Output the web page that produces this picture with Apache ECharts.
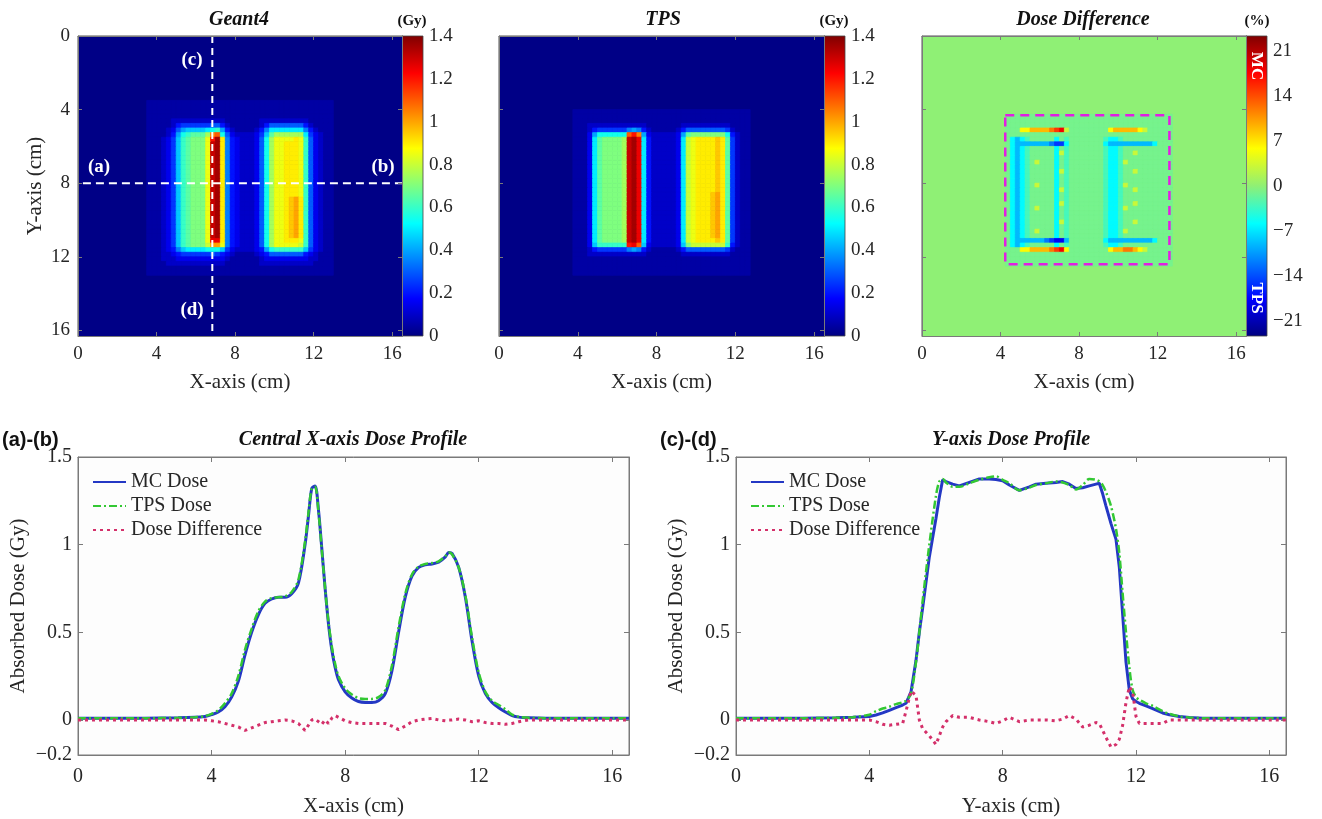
<!DOCTYPE html>
<html>
<head>
<meta charset="utf-8">
<script src="https://cdn.jsdelivr.net/npm/echarts@6/dist/echarts.min.js"></script>
<style>
html, body { margin: 0; padding: 0; background: #fff; }
#chart { width: 1322px; height: 819px; }
</style>
</head>
<body>
<div id="chart"></div>
<script>
// ---- dose maps: 0.25 cm cells covering x 3.5-13.5, y 3.5-13.5 (cm) ----
// code per cell: '.' = background, then 0.05 Gy steps '0'..'S' (0 .. 1.4 Gy)
const doseLevels = '0123456789ABCDEFGHIJKLMNOPQRS';
const doseBackground = 0.01;

const geant4Rows = [
  '11111111111111111111111111111111111111..',
  '11111111111111111111111111111111111111..',
  '11111111111111111111111111111111111111..',
  '11111111111111111111111111111111111111..',
  '11111222222222221111111222222222211111..',
  '11111245555556642111111246666666421111..',
  '111123689999ABC8421111247AAAAAAA742111..',
  '1111248BCDDDFLMB632222359DFFFFFFA53211..',
  '1112359CDEEEHORI74322236BFHHHHIHC63211..',
  '1112359CDEEEHQRI74322236BFHHIIIHC63211..',
  '1112359CDEEEHQRI74322236BFHHIIIHC63211..',
  '1112359CDEEEHQRI74322236BFHHIIIHC63211..',
  '1112359CDEEEHQRI74322236BFHHIIIHC63211..',
  '1112359CDEEEHQRI74322236BFHHIIIHC63211..',
  '1112359CDEEEHQRI74322236BFHHIIIHC63211..',
  '1112359CDEEEHQRI74322236BFHHIIIHC63211..',
  '1112359CDEEEHQRI74322236BFHHIIIHC63211..',
  '1112359CDEEEHQRI74322236BFHHIIIHC63211..',
  '1112359CDEEEHQRI74322236BFHHIIIHC63211..',
  '1112359CDEEEHQRI74322236BFHHIIIHC63211..',
  '1112359CDEEEHQRI74322236BFHHIIIHC63211..',
  '1112359CDEEEHQRI74322236BFHHIJKIC63211..',
  '1112359CDEEEHQRI74322236BFHHIJKIC63211..',
  '1112359CDEEEHQRI74322236BFHHIJKIC63211..',
  '1112359CDEEEHQRI74322236BFHHIJKIC63211..',
  '1112359CDEEEHQRI74322236BFHHIJKIC63211..',
  '1112359CDEEEHQRI74322236BFHHIJKIC63211..',
  '1112359CDEEEHQRI74322236BFHHIJKIC63211..',
  '1112359CDEEEHQRI74322236BFHHIJKIC63211..',
  '1112359CDEEEHQRI74322236BFHHIJKIC63211..',
  '1112359CDEEEHPPI74322236BFHHIIIHC63211..',
  '1112359CDEEEGKKH74322236BFHHHHHGC63211..',
  '11123479AAAABBB9532222348BCCCCCC953211..',
  '11122345555556543211112346666666432111..',
  '11122233333333332111111233333333322111..',
  '11112222222222221111111222222222221111..',
  '11111111111111111111111111111111111111..',
  '11111111111111111111111111111111111111..',
  '........................................',
  '........................................'
];

const tpsRows = [
  '........................................',
  '........................................',
  '.111111111111111111111111111111111111...',
  '.111111111111111111111111111111111111...',
  '.111111111111111111111111111111111111...',
  '.111222222222222111111122222222221111...',
  '.111245555557874211111246666666652111...',
  '.11138BBBBBBMOL832222238DEEEEEEEB4211...',
  '.1113ADEEEEFQRPA4222223AGHIIIIJID5211...',
  '.1113ADEEEEFQRPA4222223AGHIIIIJID5211...',
  '.1113ADEEEEFQRPA4222223AGHIIIIJID5211...',
  '.1113ADEEEEFQRPA4222223AGHIIIIJID5211...',
  '.1113ADEEEEFQRPA4222223AGHIIIIJID5211...',
  '.1113ADEEEEFQRPA4222223AGHIIIIJID5211...',
  '.1113ADEEEEFQRPA4222223AGHIIIIJID5211...',
  '.1113ADEEEEFQRPA4222223AGHIIIIJID5211...',
  '.1113ADEEEEFQRPA4222223AGHIIIIJID5211...',
  '.1113ADEEEEFQRPA4222223AGHIIIIJID5211...',
  '.1113ADEEEEFQRPA4222223AGHIIIIJID5211...',
  '.1113ADEEEEFQRPA4222223AGHIIIIJID5211...',
  '.1113ADEEEEFQRPA4222223AGHIIIJKID5211...',
  '.1113ADEEEEFQRPA4222223AGHIIIJKID5211...',
  '.1113ADEEEEFQRPA4222223AGHIIIJKID5211...',
  '.1113ADEEEEFQRPA4222223AGHIIIJKID5211...',
  '.1113ADEEEEFQRPA4222223AGHIIIJKID5211...',
  '.1113ADEEEEFQRPA4222223AGHIIIJKID5211...',
  '.1113ADEEEEFQRPA4222223AGHIIIJKID5211...',
  '.1113ADEEEEFQRPA4222223AGHIIIJKID5211...',
  '.1113ADEEEEFQRPA4222223AGHIIIJKID5211...',
  '.1113ADEEEEFQRPA4222223AGHIIIJKID5211...',
  '.1113ADEEEEFQRPA4222223AGHIIIIJID5211...',
  '.11139CCCCCCOPM932222239EGGGGGGGC4211...',
  '.111245555557874211111246666666652111...',
  '.111222222222222111111122222222221111...',
  '.111111111111111111111111111111111111...',
  '.111111111111111111111111111111111111...',
  '.111111111111111111111111111111111111...',
  '.111111111111111111111111111111111111...',
  '........................................',
  '........................................'
];

// dose difference (%): '.' = 0, '-' = -1, a..g = -3..-21, A..G = +3..+21
const diffCodes = { '.': 0, '-': -1, a: -3, b: -6, c: -9, d: -12, e: -15, f: -18, g: -21,
  A: 3, B: 6, C: 9, D: 12, E: 15, F: 18, G: 21 };

const diffRows = [
  '........................................',
  '........................................',
  '........................................',
  '...----------------------------------...',
  '...----------------------------------...',
  '...----------------------------------...',
  '...---BBCCCCDEFA--------BCCCCCBA-----...',
  '...----------------------------------...',
  '...-bcba-----b-a-------abba----------...',
  '...-bcccccccdeeb-------bcccccccccb---...',
  '...-bcba-----b-a-------abba----------...',
  '...-bcba-----bAa-------abba--A-------...',
  '...-bcba-----b-a-------abba----------...',
  '...-bcba-A---b-a-------abbaA---------...',
  '...-bcba-----b-a-------abba----------...',
  '...-bcba-----bAa-------abba--A-------...',
  '...-bcba-----b-a-------abba----------...',
  '...-bcba-----b-a-------abba----------...',
  '...-bcba-A---b-a-------abbaA---------...',
  '...-bcba-----bAa-------abba--A-------...',
  '...-bcba-----b-a-------abba----------...',
  '...-bcba-----b-a-------abba----------...',
  '...-bcba-----bAa-------abba--A-------...',
  '...-bcba-A---b-a-------abbaA---------...',
  '...-bcba-----b-a-------abba----------...',
  '...-bcba-----b-a-------abba----------...',
  '...-bcba-----bAa-------abba--A-------...',
  '...-bcba-----b-a-------abba----------...',
  '...-bcba-A---b-a-------abbaA---------...',
  '...-bcba-----b-a-------abba----------...',
  '...-bccccccdeffc-------bcccccccccb---...',
  '...-bcba-----b-a-------abba----------...',
  '...---BBCCCCDEFB--------BCCDDCBA-----...',
  '...----------------------------------...',
  '...----------------------------------...',
  '...----------------------------------...',
  '........................................',
  '........................................',
  '........................................',
  '........................................'
];

// reference lines drawn on the maps (cm)
const profileLineX = 6.84;
const profileLineY = 8;
const diffBox = [[4.24, 4.3], [12.6, 4.3], [12.6, 12.4], [4.24, 12.4], [4.24, 4.3]];

// ---- (a)-(b) central X-axis profile ----
const xProfPos = [0, 1, 2, 3, 3.5, 3.8, 4.0, 4.2, 4.4, 4.6, 4.8, 5.0, 5.2, 5.4, 5.6, 5.8,
  6.0, 6.2, 6.4, 6.6, 6.8, 6.9, 7.0, 7.1, 7.2, 7.3, 7.4, 7.5, 7.6, 7.7, 7.8,
  8.0, 8.2, 8.4, 8.6, 8.8, 9.0, 9.2, 9.4, 9.6, 9.8, 10.0, 10.2, 10.4, 10.6, 10.8,
  11.0, 11.1, 11.2, 11.4, 11.6, 11.8, 12.0, 12.2, 12.4, 12.6, 12.8, 13.0, 13.2, 13.5,
  14, 15, 16, 16.5];
const xProfMC = [0.01, 0.01, 0.01, 0.012, 0.015, 0.02, 0.03, 0.045, 0.075, 0.13, 0.22, 0.37, 0.5, 0.6, 0.665, 0.69,
  0.70, 0.70, 0.72, 0.78, 1.0, 1.16, 1.32, 1.335, 1.2, 0.98, 0.75, 0.55, 0.4, 0.3, 0.23,
  0.16, 0.125, 0.105, 0.1, 0.1, 0.11, 0.15, 0.28, 0.5, 0.7, 0.82, 0.87, 0.885, 0.89, 0.9,
  0.93, 0.955, 0.95, 0.87, 0.7, 0.45, 0.25, 0.15, 0.1, 0.07, 0.045, 0.025, 0.016, 0.012,
  0.01, 0.01, 0.01, 0.01];
const xProfTPS = [0.01, 0.01, 0.01, 0.012, 0.016, 0.022, 0.035, 0.055, 0.095, 0.15, 0.25, 0.4, 0.52, 0.62, 0.675, 0.695,
  0.70, 0.705, 0.73, 0.8, 1.02, 1.18, 1.32, 1.33, 1.19, 0.97, 0.75, 0.56, 0.42, 0.32, 0.25,
  0.18, 0.145, 0.125, 0.12, 0.12, 0.13, 0.17, 0.31, 0.53, 0.72, 0.83, 0.875, 0.89, 0.895, 0.905,
  0.935, 0.955, 0.945, 0.87, 0.71, 0.47, 0.27, 0.16, 0.11, 0.085, 0.06, 0.03, 0.018, 0.012,
  0.01, 0.01, 0.01, 0.01];
const xProfDiff = [0, 0, 0, 0, 0, 0, -0.005, -0.01, -0.02, -0.03, -0.04, -0.06, -0.045, -0.03, -0.015, -0.01,
  -0.005, 0, -0.005, -0.02, -0.06, -0.03, 0, 0.005, -0.01, -0.025, 0, -0.02, 0.01, 0.025, 0.015,
  -0.005, -0.015, -0.02, -0.02, -0.02, -0.02, -0.02, -0.035, -0.055, -0.035, -0.01, 0, 0.005, 0.008, 0,
  -0.005, 0, 0, 0.005, 0, -0.01, -0.005, -0.015, -0.02, -0.02, -0.025, -0.02, -0.01, 0,
  0, 0, 0, 0];

// ---- (c)-(d) Y-axis profile ----
const yProfPos = [0, 1, 2, 3, 3.5, 4.0, 4.2, 4.4, 4.6, 4.8, 5.0, 5.1, 5.25, 5.4, 5.5,
  5.6, 5.8, 6.0, 6.1, 6.2, 6.3, 6.5, 6.7, 7.0, 7.3, 7.6, 7.8, 8.0, 8.2, 8.5,
  8.8, 9.0, 9.3, 9.6, 9.8, 10.0, 10.2, 10.4, 10.6, 10.8, 10.9, 11.0, 11.1, 11.25, 11.4,
  11.5, 11.6, 11.7, 11.8, 11.9, 12.0, 12.1, 12.3, 12.5, 12.8, 13.0, 13.3, 13.6, 14, 15, 16, 16.5];
const yProfMC = [0.01, 0.01, 0.01, 0.012, 0.015, 0.02, 0.028, 0.04, 0.055, 0.07, 0.085, 0.095, 0.16, 0.34, 0.5,
  0.64, 0.93, 1.15, 1.27, 1.37, 1.36, 1.345, 1.335, 1.355, 1.375, 1.375, 1.372, 1.365, 1.34, 1.31,
  1.33, 1.345, 1.35, 1.355, 1.36, 1.345, 1.32, 1.325, 1.335, 1.345, 1.35, 1.29, 1.22, 1.12, 1.03,
  0.87, 0.6, 0.33, 0.17, 0.12, 0.105, 0.095, 0.08, 0.065, 0.04, 0.03, 0.02, 0.014, 0.01, 0.01, 0.01, 0.01];
const yProfTPS = [0.01, 0.01, 0.01, 0.012, 0.016, 0.03, 0.05, 0.065, 0.075, 0.09, 0.1, 0.11, 0.15, 0.33, 0.5,
  0.68, 1.0, 1.28, 1.36, 1.375, 1.355, 1.33, 1.33, 1.35, 1.37, 1.385, 1.39, 1.37, 1.35, 1.31,
  1.325, 1.34, 1.35, 1.36, 1.355, 1.34, 1.315, 1.34, 1.375, 1.37, 1.36, 1.34, 1.3, 1.22, 1.09,
  0.95, 0.72, 0.5, 0.3, 0.17, 0.13, 0.115, 0.095, 0.08, 0.05, 0.035, 0.02, 0.014, 0.01, 0.01, 0.01, 0.01];
const yProfDiff = [0, 0, 0, 0, 0, 0, -0.01, -0.025, -0.03, -0.025, -0.02, 0.05, 0.165, 0.14, 0,
  -0.05, -0.09, -0.14, -0.09, -0.04, -0.01, 0.025, 0.015, 0.015, 0, -0.01, -0.02, -0.005, 0.015, -0.01,
  0, 0, 0, -0.005, 0.005, 0.025, 0.005, -0.04, -0.03, -0.015, -0.02, -0.06, -0.1, -0.155, -0.14,
  -0.11, -0.03, 0.1, 0.19, 0.16, 0.02, -0.02, -0.02, -0.02, -0.02, 0, 0, 0, 0, 0, 0, 0];

const mapTicks = [0, 4, 8, 12, 16];
const profXTicks = [0, 4, 8, 12, 16];
const profYTicks = [-0.2, 0, 0.5, 1, 1.5];
const doseBarTicks = [0, 0.2, 0.4, 0.6, 0.8, 1, 1.2, 1.4];
const diffBarTicks = [-21, -14, -7, 0, 7, 14, 21];

// ---- styling ----
const jet = ['#00007f', '#0000ff', '#007fff', '#00ffff', '#7fff7f', '#ffff00', '#ff7f00', '#ff0000', '#7f0000'];
const diffJet = ['#00007f', '#0000ff', '#007fff', '#00ffff', '#8ff075', '#ffff00', '#ff7f00', '#ff0000', '#7f0000'];
const serif = 'Liberation Serif';
const ink = '#262626';
const axisGray = '#7a7a7a';
const mcColor = '#2438c4';
const tpsColor = '#33c833';
const diffColor = '#d4306a';

const cellStart = 3.5, cellSize = 0.25;
const mapXMax = 16.5, mapYMax = 16.3;

function cellsFromRows(rows, decode, background) {
  const items = [[0, mapXMax, 0, mapYMax, background]];
  rows.forEach((row, r) => {
    for (let c = 0; c < row.length; c++) {
      const ch = row[c];
      if (ch === '.') continue;
      const x0 = cellStart + c * cellSize, y0 = cellStart + r * cellSize;
      items.push([x0, x0 + cellSize, y0, y0 + cellSize, decode(ch)]);
    }
  });
  return items;
}
const decodeDose = ch => doseLevels.indexOf(ch) * 0.05;
const decodeDiff = ch => diffCodes[ch];

function renderCell(params, api) {
  const a = api.coord([api.value(0), api.value(2)]);
  const b = api.coord([api.value(1), api.value(3)]);
  const color = api.visual('color');
  return {
    type: 'rect',
    shape: { x: Math.min(a[0], b[0]), y: Math.min(a[1], b[1]), width: Math.abs(b[0] - a[0]), height: Math.abs(b[1] - a[1]) },
    style: { fill: color, stroke: color, lineWidth: 0.8 }
  };
}

const zip = (xs, ys) => xs.map((x, i) => [x, ys[i]]);
const minus = v => (v < 0 ? '\u2212' + (-v) : String(v));
const tickText = { fontFamily: serif, fontSize: 19, color: ink };
const nameText = { fontFamily: serif, fontSize: 21, color: ink };
const gradientOf = colors => ({
  type: 'linear', x: 0, y: 1, x2: 0, y2: 0,
  colorStops: colors.map((c, i) => ({ offset: i / (colors.length - 1), color: c }))
});

function mapX(grid, position, labels) {
  return {
    gridIndex: grid, type: 'value', min: 0, max: mapXMax, position: position, z: 5,
    axisLine: { show: true, onZero: false, lineStyle: { color: axisGray } },
    axisTick: { show: true, inside: true, length: 4, customValues: mapTicks, lineStyle: { color: axisGray } },
    axisLabel: { show: labels, customValues: mapTicks, margin: 9, ...tickText },
    splitLine: { show: false },
    name: labels ? 'X-axis (cm)' : '', nameLocation: 'middle', nameGap: 36, nameTextStyle: nameText
  };
}
function mapY(grid, position, labels) {
  return {
    gridIndex: grid, type: 'value', min: 0, max: mapYMax, inverse: true, position: position, z: 5,
    axisLine: { show: true, onZero: false, lineStyle: { color: axisGray } },
    axisTick: { show: true, inside: true, length: 4, customValues: mapTicks, lineStyle: { color: axisGray } },
    axisLabel: { show: labels, customValues: mapTicks, margin: 8, ...tickText },
    splitLine: { show: false },
    name: labels ? 'Y-axis (cm)' : '', nameLocation: 'middle', nameGap: 32, nameTextStyle: nameText
  };
}
function barY(grid, min, max, ticks) {
  return {
    gridIndex: grid, type: 'value', min: min, max: max, position: 'right',
    axisLine: { show: true, lineStyle: { color: '#444' } },
    axisTick: { show: true, inside: true, length: 3, customValues: ticks, lineStyle: { color: '#444' } },
    axisLabel: { customValues: ticks, margin: 6, formatter: minus, ...tickText },
    splitLine: { show: false }
  };
}
function barX(grid) {
  return { gridIndex: grid, type: 'value', min: 0, max: 1, show: false };
}
function profX(grid, position, labels, title) {
  return {
    gridIndex: grid, type: 'value', min: 0, max: 16.5, position: position,
    axisLine: { show: true, onZero: false, lineStyle: { color: axisGray } },
    axisTick: { show: true, inside: true, length: 5, customValues: profXTicks, lineStyle: { color: axisGray } },
    axisLabel: { show: labels, customValues: profXTicks, margin: 12, ...tickText, fontSize: 20 },
    splitLine: { show: false },
    name: labels ? title : '', nameLocation: 'middle', nameGap: 41, nameTextStyle: nameText
  };
}
function profY(grid, position, labels) {
  return {
    gridIndex: grid, type: 'value', min: -0.2, max: 1.5, position: position,
    axisLine: { show: true, onZero: false, lineStyle: { color: axisGray } },
    axisTick: { show: true, inside: true, length: 5, customValues: profYTicks, lineStyle: { color: axisGray } },
    axisLabel: { show: labels, customValues: profYTicks, margin: 6, formatter: minus, ...tickText, fontSize: 20 },
    splitLine: { show: false },
    name: labels ? 'Absorbed Dose (Gy)' : '', nameLocation: 'middle', nameGap: 49, nameTextStyle: nameText
  };
}

function heatSeries(name, axis, data) {
  return {
    name: name, type: 'custom', xAxisIndex: axis, yAxisIndex: axis, clip: true, silent: true,
    renderItem: renderCell, encode: { x: [0, 1], y: [2, 3] }, data: data
  };
}
function profileSeries(name, axis, xs, ys, color, width, dash, smooth) {
  return {
    name: name, type: 'line', xAxisIndex: axis, yAxisIndex: axis, symbol: 'none',
    smooth: smooth, data: zip(xs, ys),
    lineStyle: { color: color, width: width, type: dash }, itemStyle: { color: color }
  };
}
function text(x, y, str, font, fill, align, rotation) {
  return {
    type: 'text', x: x, y: y, rotation: rotation || 0, z: 20,
    style: { text: str, font: font, fill: fill || '#111', textAlign: align || 'center', textVerticalAlign: 'middle' }
  };
}

const chart = echarts.init(document.getElementById('chart'));
const profileLegend = left => ({
  left: left, top: 467, orient: 'vertical', itemWidth: 33, itemHeight: 14, itemGap: 4,
  data: ['MC Dose', 'TPS Dose', 'Dose Difference'],
  itemStyle: { opacity: 0 },
  textStyle: { fontFamily: serif, fontSize: 20, color: ink, lineHeight: 20 }
});

chart.setOption({
  animation: false,
  backgroundColor: '#ffffff',
  grid: [
    { left: 78, top: 36, width: 324, height: 300, show: true, borderColor: '#555', backgroundColor: '#000087' },
    { left: 402, top: 36, width: 21, height: 300, show: true, borderColor: '#444', borderWidth: 0.8, backgroundColor: gradientOf(jet) },
    { left: 499, top: 36, width: 325, height: 300, show: true, borderColor: '#555', backgroundColor: '#000087' },
    { left: 824, top: 36, width: 21, height: 300, show: true, borderColor: '#444', borderWidth: 0.8, backgroundColor: gradientOf(jet) },
    { left: 922, top: 36, width: 324, height: 300, show: true, borderColor: '#555', backgroundColor: '#8ff075' },
    { left: 1246, top: 36, width: 21, height: 300, show: true, borderColor: '#444', borderWidth: 0.8, backgroundColor: gradientOf(diffJet) },
    { left: 78, top: 457, width: 551, height: 298, show: true, borderColor: axisGray, borderWidth: 1, backgroundColor: '#fdfdfd' },
    { left: 736, top: 457, width: 550, height: 298, show: true, borderColor: axisGray, borderWidth: 1, backgroundColor: '#fdfdfd' }
  ],
  xAxis: [
    mapX(0, 'bottom', true), barX(1), mapX(2, 'bottom', true), barX(3), mapX(4, 'bottom', true), barX(5),
    profX(6, 'bottom', true, 'X-axis (cm)'), profX(7, 'bottom', true, 'Y-axis (cm)'),
    mapX(0, 'top', false), mapX(2, 'top', false), mapX(4, 'top', false),
    profX(6, 'top', false), profX(7, 'top', false)
  ],
  yAxis: [
    mapY(0, 'left', true), barY(1, 0, 1.4, doseBarTicks),
    mapY(2, 'left', false), barY(3, 0, 1.4, doseBarTicks),
    mapY(4, 'left', false), barY(5, -23.3, 23.3, diffBarTicks),
    profY(6, 'left', true), profY(7, 'left', true),
    mapY(0, 'right', false), mapY(2, 'right', false), mapY(4, 'right', false),
    profY(6, 'right', false), profY(7, 'right', false)
  ],
  visualMap: [
    { type: 'continuous', show: false, seriesIndex: 0, dimension: 4, min: 0, max: 1.4, inRange: { color: jet } },
    { type: 'continuous', show: false, seriesIndex: 1, dimension: 4, min: 0, max: 1.4, inRange: { color: jet } },
    { type: 'continuous', show: false, seriesIndex: 2, dimension: 4, min: -23.3, max: 23.3, inRange: { color: diffJet } }
  ],
  legend: [profileLegend(87), profileLegend(745)],
  series: [
    heatSeries('Geant4', 0, cellsFromRows(geant4Rows, decodeDose, doseBackground)),
    heatSeries('TPS', 2, cellsFromRows(tpsRows, decodeDose, doseBackground)),
    heatSeries('Dose Difference map', 4, cellsFromRows(diffRows, decodeDiff, 0)),
    {
      name: 'line c-d', type: 'line', xAxisIndex: 0, yAxisIndex: 0, symbol: 'none', silent: true, z: 4,
      data: [[profileLineX, 0], [profileLineX, mapYMax]],
      lineStyle: { color: '#ffffff', width: 2, type: [7, 5] }
    },
    {
      name: 'line a-b', type: 'line', xAxisIndex: 0, yAxisIndex: 0, symbol: 'none', silent: true, z: 4,
      data: [[0.25, profileLineY], [mapXMax, profileLineY]],
      lineStyle: { color: '#ffffff', width: 2, type: [8, 5] }
    },
    {
      name: 'region', type: 'line', xAxisIndex: 4, yAxisIndex: 4, symbol: 'none', silent: true, z: 4,
      data: diffBox,
      lineStyle: { color: '#e21ee2', width: 2.5, type: [9, 6] }
    },
    profileSeries('MC Dose', 6, xProfPos, xProfMC, mcColor, 3, 'solid', 0.3),
    profileSeries('TPS Dose', 6, xProfPos, xProfTPS, tpsColor, 2.5, [8, 3, 2, 3], 0.3),
    profileSeries('Dose Difference', 6, xProfPos, xProfDiff, diffColor, 3, [3, 4], false),
    profileSeries('MC Dose', 7, yProfPos, yProfMC, mcColor, 3, 'solid', false),
    profileSeries('TPS Dose', 7, yProfPos, yProfTPS, tpsColor, 2.5, [8, 3, 2, 3], 0.3),
    profileSeries('Dose Difference', 7, yProfPos, yProfDiff, diffColor, 3, [3, 4], false)
  ],
  graphic: [
    text(239, 20, 'Geant4', 'italic bold 20px "Liberation Serif"'),
    text(412, 21, '(Gy)', 'bold 15px "Liberation Serif"'),
    text(663, 20, 'TPS', 'italic bold 20px "Liberation Serif"'),
    text(834, 21, '(Gy)', 'bold 15px "Liberation Serif"'),
    text(1083, 20, 'Dose Difference', 'italic bold 20px "Liberation Serif"'),
    text(1257, 21, '(%)', 'bold 15px "Liberation Serif"'),
    text(192, 60, '(c)', 'bold 19px "Liberation Serif"', '#ffffff'),
    text(192, 310, '(d)', 'bold 19px "Liberation Serif"', '#ffffff'),
    text(99, 167, '(a)', 'bold 19px "Liberation Serif"', '#ffffff'),
    text(383, 167, '(b)', 'bold 19px "Liberation Serif"', '#ffffff'),
    text(1256, 66, 'MC', 'bold 17px "Liberation Serif"', '#ffffff', 'center', -Math.PI / 2),
    text(1256, 298, 'TPS', 'bold 17px "Liberation Serif"', '#ffffff', 'center', -Math.PI / 2),
    text(2, 440, '(a)-(b)', 'bold 20px "Liberation Sans"', '#111', 'left'),
    text(660, 440, '(c)-(d)', 'bold 20px "Liberation Sans"', '#111', 'left'),
    text(353, 440, 'Central X-axis Dose Profile', 'italic bold 20px "Liberation Serif"'),
    text(1011, 440, 'Y-axis Dose Profile', 'italic bold 20px "Liberation Serif"')
  ]
});
</script>
</body>
</html>
